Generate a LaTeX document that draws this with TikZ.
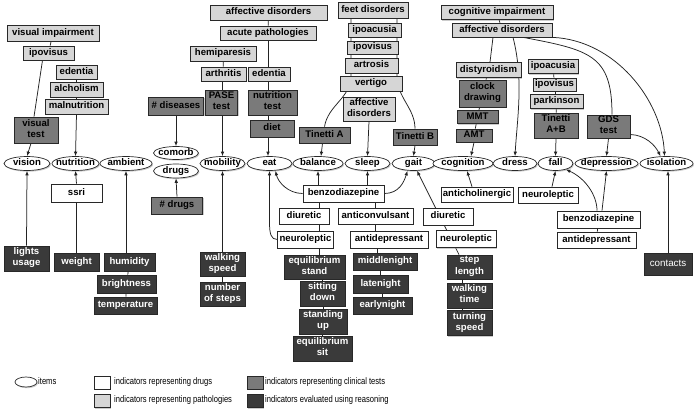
\documentclass[tikz,border=0pt]{standalone}
\usepackage{fontspec}
\setmainfont{Liberation Sans}
\newfontfamily\legendfont[FakeStretch=0.8]{Liberation Sans}
\usetikzlibrary{shapes.geometric,shadows,arrows.meta}
\pgfdeclarelayer{bg}
\pgfdeclarelayer{paper}
\pgfsetlayers{paper,bg,main}
\definecolor{pathoc}{RGB}{214,214,214}
\definecolor{clinc}{RGB}{122,122,122}
\definecolor{reasc}{RGB}{58,58,58}
\definecolor{bordc}{RGB}{40,40,40}
\definecolor{linec}{RGB}{35,35,35}
\newcommand\ztext[1]{\makebox[0pt]{#1}}
\begin{document}
\begin{tikzpicture}[x=1pt,y=-1pt,
 base/.style={draw=bordc, line width=0.7pt, inner xsep=2pt, inner ysep=1pt, align=center,
   execute at begin node=\strut, execute at end node=\strut,
   font=\bfseries\fontsize{9.6}{11.2}\selectfont,
   drop shadow={shadow xshift=1pt,shadow yshift=-1.2pt,opacity=0.4}},
 nostrut/.style={execute at begin node={}, execute at end node={}},
 drug/.style={base, fill=white},
 patho/.style={base, fill=pathoc},
 clin/.style={base, fill=clinc},
 reas/.style={base, fill=reasc, text=white},
 item/.style={base, nostrut, ellipse, fill=white, inner sep=0pt, minimum height=14pt,
   text height=6.8pt, text depth=2pt},
 bw/.style={minimum width=#1pt},
 bh/.style={minimum height=#1pt},
 conn/.style={draw=linec, line width=0.75pt},
 arr/.style={conn, -{Latex[length=4.5pt,width=3.6pt]}},
 lfont/.style={anchor=west, inner sep=1pt, font=\legendfont\fontsize{9.5}{11}\selectfont}
]
\begin{pgfonlayer}{paper}
\fill[white] (0,0) rectangle (699,412);
\end{pgfonlayer}
\useasboundingbox (0,0) rectangle (699,412);

% items
\node[item, bw=46] (vision) at (27,163.5) {\ztext{vision}};
\node[item, bw=47] (nutr) at (75.5,163.5) {\ztext{nutrition}};
\node[item, bw=52] (amb) at (126,163.5) {\ztext{ambient}};
\node[item, bw=45, minimum height=13pt] (comorb) at (176,153) {\ztext{comorb}};
\node[item, bw=45] (drugs) at (176,171) {\ztext{drugs}};
\node[item, bw=45] (mob) at (222.5,163.5) {\ztext{mobility}};
\node[item, bw=45] (eat) at (269.5,163.5) {\ztext{eat}};
\node[item, bw=50] (bal) at (318,163.5) {\ztext{balance}};
\node[item, bw=45] (sleep) at (367.5,163.5) {\ztext{sleep}};
\node[item, bw=43] (gait) at (413.5,163.5) {\ztext{gait}};
\node[item, bw=60] (cogn) at (463,163.5) {\ztext{cognition}};
\node[item, bw=44] (dress) at (515,163.5) {\ztext{dress}};
\node[item, bw=35] (fall) at (555.5,163.5) {\ztext{fall}};
\node[item, bw=63] (dep) at (606.5,163.5) {\ztext{depression}};
\node[item, bw=53] (iso) at (666.5,163.5) {\ztext{isolation}};

% pathologies
\node[patho, bw=92, bh=16] (vi) at (53,33) {visual impairment};
\node[patho, bw=51, bh=14] (ipv1) at (48.5,53) {ipovisus};
\node[patho, bw=41, bh=14] (ede1) at (76.5,72) {edentia};
\node[patho, bw=53, bh=15] (alc) at (76.5,89.5) {alcholism};
\node[patho, bw=63, bh=15] (maln) at (76.5,106.5) {malnutrition};
\node[patho, bw=117, bh=15] (ad1) at (268.5,12.5) {affective disorders};
\node[patho, bw=96, bh=14] (acu) at (268,33) {acute pathologies};
\node[patho, bw=66, bh=15] (hem) at (223,53.5) {hemiparesis};
\node[patho, bw=45, bh=14] (art) at (223.5,74) {arthritis};
\node[patho, bw=42, bh=14] (ede2) at (269,74) {edentia};
\node[patho, bw=70, bh=16] (feet) at (373,10) {feet disorders};
\node[patho, bw=53, bh=14] (ipa2) at (374.5,30) {ipoacusia};
\node[patho, bw=51, bh=13] (ipv2) at (372.5,47.5) {ipovisus};
\node[patho, bw=53, bh=15] (artr) at (371.5,65.5) {artrosis};
\node[patho, bw=62, bh=15] (vert) at (371,83.5) {vertigo};
\node[patho, bw=52, bh=24] (ad2) at (369,109) {affective\\disorders};
\node[patho, bw=112, bh=14] (cog) at (497,12.5) {cognitive impairment};
\node[patho, bw=100, bh=14] (ad3) at (502,30) {affective disorders};
\node[patho, bw=65, bh=15] (dist) at (488.5,70) {distyroidism};
\node[patho, bw=50, bh=14] (ipa3) at (553,66.5) {ipoacusia};
\node[patho, bw=41, bh=13] (ipv3) at (554.5,84.5) {ipovisus};
\node[patho, bw=53, bh=14] (park) at (556.5,101.5) {parkinson};

% clinical tests
\node[clin, bw=44, bh=26] (vt) at (36,130) {visual\\test};
\node[clin, bw=55, bh=18] (dis) at (176,106) {\# diseases};
\node[clin, bw=32, bh=25] (pase) at (221.5,102.5) {PASE\\test};
\node[clin, bw=49, bh=25] (nt) at (272.5,102.5) {nutrition\\test};
\node[clin, bw=44, bh=17] (diet) at (272,128.5) {diet};
\node[clin, bw=51, bh=16] (ta) at (324.5,135) {Tinetti A};
\node[clin, bw=44, bh=16] (tb) at (415,137) {Tinetti B};
\node[clin, bw=47, bh=27] (cd) at (482.5,93.5) {clock\\drawing};
\node[clin, bw=41, bh=12] (mmt) at (477.5,117) {MMT};
\node[clin, bw=36, bh=13] (amt) at (474,135.5) {AMT};
\node[clin, bw=44, bh=25] (tab) at (556,125.5) {Tinetti\\A+B};
\node[clin, bw=43, bh=23] (gds) at (608.5,126.5) {GDS\\test};
\node[clin, bw=51, bh=17] (ndr) at (177,205.5) {\# drugs};

% reasoning
\node[reas, bw=45, bh=25] (lu) at (26.5,258.5) {lights\\usage};
\node[reas, bw=45, bh=18] (wt) at (76.5,262) {weight};
\node[reas, bw=51, bh=18] (hum) at (129.5,262) {humidity};
\node[reas, bw=59, bh=18] (bri) at (126.5,284) {brightness};
\node[reas, bw=63, bh=17] (tmp) at (125.5,305.5) {temperature};
\node[reas, bw=45, bh=24] (ws) at (222.5,264) {walking\\speed};
\node[reas, bw=45, bh=24] (nos) at (222.5,294) {number\\of steps};
\node[reas, bw=61, bh=24] (eqs) at (314.5,267) {equilibrium\\stand};
\node[reas, bw=45, bh=25] (sd) at (322.5,293.5) {sitting\\down};
\node[reas, bw=48, bh=25] (su) at (323,321.5) {standing\\up};
\node[reas, bw=59, bh=25] (eqsit) at (322.5,348.5) {equilibrium\\sit};
\node[reas, bw=64, bh=17] (mn) at (385,261.5) {middlenight};
\node[reas, bw=55, bh=18] (ln) at (380.5,284) {latenight};
\node[reas, bw=59, bh=17] (en) at (382.5,305.5) {earlynight};
\node[reas, bw=45, bh=24] (sl) at (469.5,267) {step\\length};
\node[reas, bw=45, bh=25] (wti) at (469.5,295.5) {walking\\time};
\node[reas, bw=45, bh=25] (ts) at (469.5,323) {turning\\speed};
\node[reas, bw=48, bh=22, font=\fontsize{9.8}{11}\selectfont] (con) at (668,264) {contacts};

% drugs
\node[drug, bw=51, bh=18] (ssri) at (76.5,193) {ssri};
\node[drug, bw=81, bh=17] (bz1) at (343.5,193.5) {benzodiazepine};
\node[drug, bw=50, bh=16] (diu1) at (304,216) {diuretic};
\node[drug, bw=75, bh=16] (acv) at (375.5,216) {anticonvulsant};
\node[drug, bw=53, bh=17] (neu1) at (305.5,239.5) {neuroleptic};
\node[drug, bw=78, bh=17] (adp1) at (389,239.5) {antidepressant};
\node[drug, bw=70, bh=15] (ach) at (477,194.5) {anticholinergic};
\node[drug, bw=50, bh=17] (diu2) at (448,216.5) {diuretic};
\node[drug, bw=60, bh=17] (neu2) at (466,239) {neuroleptic};
\node[drug, bw=60, bh=16] (neu3) at (548,195) {neuroleptic};
\node[drug, bw=83, bh=17] (bz2) at (598.5,219.5) {benzodiazepine};
\node[drug, bw=79, bh=16] (adp2) at (596.5,240) {antidepressant};

% legend
\node[item, bw=22, minimum height=10pt, text height=0pt, text depth=0pt] (lgi) at (26,382) {};
\node[lfont] (lgit) at (37,381) {items};
\node[drug, nostrut, bw=16, bh=11] (lgd) at (102,382.5) {};
\node[lfont] (lgdt) at (113,382) {indicators representing drugs};
\node[patho, nostrut, bw=16, bh=12] (lgp) at (102,401) {};
\node[lfont] (lgpt) at (113,400) {indicators representing pathologies};
\node[clin, nostrut, bw=16, bh=11] (lgc) at (255,382.5) {};
\node[lfont] (lgct) at (264,382) {indicators representing clinical tests};
\node[reas, nostrut, bw=16, bh=12] (lgr) at (255,401) {};
\node[lfont] (lgrt) at (264,400) {indicators evaluated using reasoning};

\begin{pgfonlayer}{bg}
% top left
\draw[conn] (vi) -- (ipv1);
\draw[conn] ([xshift=-6pt]ipv1.south) -- ([xshift=-2pt]vt.north);
\draw[arr] ([xshift=-5pt]vt.south) -- (vision.north);
\draw[conn] (ede1) -- (alc);
\draw[conn] (alc) -- (maln);
\draw[arr] (maln.south) -- (nutr.north);
\draw[arr] (dis.south) -- (comorb.north);
\draw[arr] (ndr.north) -- (drugs.south);
\draw[conn] (ad1) -- (acu);
\draw[arr] (acu.south) -- (acu.south |- eat.north);
\draw[conn] (hem) -- (art);
\draw[arr] (mob.north |- art.south) -- (mob.north);
% feet column
\draw[conn] ([xshift=-22pt]feet.south) -- ([xshift=-20pt]vert.north) .. controls (351,98) and (328,105) .. (ta.north);
\draw[conn] ([xshift=24pt]feet.south) -- ([xshift=26pt]vert.north) .. controls (397,98) and (415,108) .. (tb.north);
\draw[arr] ([xshift=-2pt]ta.south) -- ([xshift=3pt]bal.north);
\draw[arr] (tb.south) -- (gait.north);
\draw[arr] (ad2.south) -- (sleep.north);
% cognition column
\draw[conn] (cog) -- (ad3);
\draw[conn] ([xshift=-9pt]ad3.south) -- ([xshift=1.5pt]dist.north);
\draw[conn] (dist) -- (cd);
\draw[conn] (cd) -- (mmt);
\draw[conn] (mmt) -- (amt);
\draw[arr] (amt.south) -- ([xshift=8pt]cogn.north);
\draw[arr] ([xshift=11pt]ad3.south) .. controls (524,80) and (517,120) .. (dress.north);
\draw[conn] ([xshift=21pt]ad3.south) .. controls (590,50) and (612,55) .. ([xshift=3.5pt]gds.north);
\draw[arr] (ad3.south east) .. controls (615,40) and (662,100) .. ([xshift=-2pt]iso.north);
\draw[arr] (gds.south) -- (dep.north);
\draw[arr] ([yshift=-8pt]gds.east) .. controls (645,135) and (655,145) .. ([xshift=-6pt]iso.north);
\draw[conn] (ipa3) -- (ipv3);
\draw[conn] (ipv3) -- (park);
\draw[conn] (park) -- (tab);
\draw[arr] (tab.south) -- (fall.north);
% bottom
\draw[arr] (lu.north) -- (vision.south);
\draw[conn] (wt) -- (ssri);
\draw[arr] (ssri.north) -- (nutr.south);
\draw[arr] (amb.south |- hum.north) -- (amb.south);
\draw[conn] (hum) -- (bri);
\draw[conn] (bri) -- (tmp);
\draw[arr] (mob.south |- ws.north) -- (mob.south);
\draw[conn] (ws) -- (nos);
\draw[arr] (bz1.west) .. controls (288,193.5) and (278,182) .. ([xshift=6pt]eat.south);
\draw[arr] (bal.south |- bz1.north) -- (bal.south);
\draw[arr] (sleep.south |- bz1.north) -- (sleep.south);
\draw[arr] (bz1.east) .. controls (399,193.5) and (404,182) .. ([xshift=-6pt]gait.south);
\draw[conn] ([xshift=15pt]diu1.north) -- ([xshift=15pt]diu1.north |- bz1.south);
\draw[conn] (acv.north) -- (acv.north |- bz1.south);
\draw[conn] ([xshift=14pt]neu1.north) -- ([xshift=14pt]neu1.north |- diu1.south);
\draw[conn] (acv.south) -- (acv.south |- adp1.north);
\draw[arr] (neu1.west) .. controls (271,239.5) and (269.5,234) .. (269.5,222) -- (eat.south);
\draw[conn] ([xshift=14pt]neu1.south) -- ([xshift=14pt]neu1.south |- eqs.north);
\draw[conn] (sd.north) -- (sd.north |- eqs.south);
\draw[conn] (su.north) -- (su.north |- sd.south);
\draw[conn] (eqsit.north) -- (eqsit.north |- su.south);
\draw[conn] ([xshift=-12pt]adp1.south) -- ([xshift=-12pt]adp1.south |- mn.north);
\draw[conn] (ln.north) -- (ln.north |- mn.south);
\draw[conn] (en.north) -- (en.north |- ln.south);
\draw[arr] ([xshift=-10.5pt]sl.north) -- ([xshift=3.5pt]gait.south);
\draw[conn] ([xshift=-7pt]wti.north) -- ([xshift=-7pt]sl.south);
\draw[conn] ([xshift=-7pt]ts.north) -- ([xshift=-7pt]wti.south);
\draw[arr] ([xshift=-5pt]ach.north) -- ([xshift=4pt]cogn.south);
\draw[arr] ([xshift=4pt]neu3.north) -- (fall.south);
\draw[arr] ([xshift=-1.5pt]bz2.north) .. controls (597,195) and (585,178) .. (fall.-30);
\draw[arr] ([xshift=3.5pt]bz2.north) -- (dep.south);
\draw[conn] (bz2) -- (adp2);
\draw[arr] (con.north) -- (con.north |- iso.south);
\end{pgfonlayer}
\end{tikzpicture}
\end{document}
